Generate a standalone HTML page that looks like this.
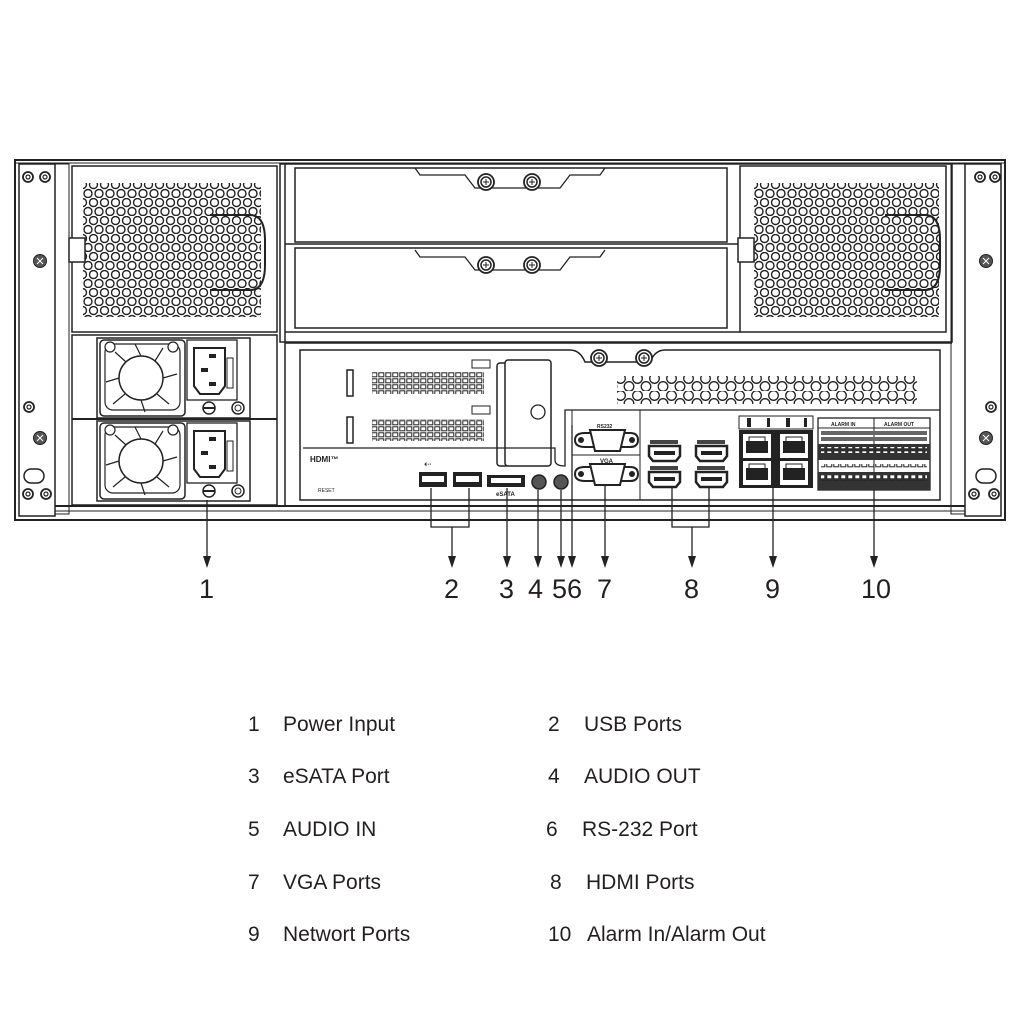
<!DOCTYPE html>
<html><head><meta charset="utf-8"><style>
html,body{margin:0;padding:0;background:#fff;}
svg{display:block}
text{font-family:"Liberation Sans",sans-serif;fill:#231f20}
</style></head><body>
<svg width="1024" height="1024" viewBox="0 0 1024 1024" xmlns="http://www.w3.org/2000/svg">
<defs>
<pattern id="hex" x="0" y="0" width="11" height="18" patternUnits="userSpaceOnUse">
<circle cx="5.5" cy="4.5" r="4" fill="#fff" stroke="#222" stroke-width="1.4"/>
<circle cx="0" cy="13.5" r="4" fill="#fff" stroke="#222" stroke-width="1.4"/>
<circle cx="11" cy="13.5" r="4" fill="#fff" stroke="#222" stroke-width="1.4"/>
</pattern>
<pattern id="hex2" x="0" y="0" width="17" height="17" patternUnits="userSpaceOnUse">
<circle cx="8.5" cy="4.5" r="4.8" fill="#fff" stroke="#222" stroke-width="1.3"/>
<circle cx="0" cy="12.5" r="4.8" fill="#fff" stroke="#222" stroke-width="1.3"/>
<circle cx="17" cy="12.5" r="4.8" fill="#fff" stroke="#222" stroke-width="1.3"/>
</pattern>
<pattern id="sq" x="0" y="0" width="7" height="6" patternUnits="userSpaceOnUse">
<rect x="0.8" y="0.8" width="5" height="4" fill="#fff" stroke="#222" stroke-width="1"/>
</pattern>
<g id="psu">
<rect x="0" y="0" width="153" height="80" fill="#fff" stroke="#222" stroke-width="1.5"/>
<rect x="3" y="2" width="85" height="76" rx="4" fill="#fff" stroke="#222" stroke-width="1.5"/>
<rect x="8" y="6" width="75" height="66" rx="8" fill="none" stroke="#222" stroke-width="1.2"/>
<circle cx="44" cy="40" r="22" fill="#fff" stroke="#222" stroke-width="1.5"/>
<g stroke="#222" stroke-width="1.2">
<line x1="44" y1="18" x2="38" y2="6"/><line x1="58" y1="23" x2="66" y2="10"/><line x1="66" y1="40" x2="80" y2="36"/>
<line x1="60" y1="56" x2="72" y2="66"/><line x1="44" y1="62" x2="48" y2="74"/><line x1="28" y1="56" x2="16" y2="66"/>
<line x1="22" y1="40" x2="9" y2="44"/><line x1="29" y1="24" x2="18" y2="14"/>
</g>
<circle cx="13" cy="9" r="5" fill="#fff" stroke="#222" stroke-width="1.2"/>
<circle cx="76" cy="9" r="5" fill="#fff" stroke="#222" stroke-width="1.2"/>
<rect x="90" y="2" width="50" height="60" fill="#fff" stroke="#222" stroke-width="1.3"/>
<path d="M97 10 H128 V48 L122 56 H103 L97 48 Z" fill="#fff" stroke="#222" stroke-width="2"/>
<rect x="112" y="16" width="7" height="4" fill="#222"/><rect x="104" y="30" width="7" height="4" fill="#222"/><rect x="112" y="44" width="7" height="4" fill="#222"/>
<rect x="130" y="20" width="6" height="30" fill="none" stroke="#222"/>
<circle cx="112" cy="70" r="6" fill="#fff" stroke="#222" stroke-width="1.5"/>
<line x1="106" y1="70" x2="118" y2="70" stroke="#222" stroke-width="2"/>
<circle cx="141" cy="70" r="6" fill="#fff" stroke="#222" stroke-width="1.5"/>
<circle cx="141" cy="70" r="3" fill="none" stroke="#222"/>
</g>
<g id="screw"><circle r="8" fill="#fff" stroke="#222" stroke-width="1.8"/><circle r="5" fill="none" stroke="#222" stroke-width="1.5"/><line x1="-3" y1="0" x2="3" y2="0" stroke="#222"/><line x1="0" y1="-3" x2="0" y2="3" stroke="#222"/></g>
<g id="ring"><circle r="5" fill="#fff" stroke="#222" stroke-width="1.8"/><circle r="2" fill="none" stroke="#222" stroke-width="1.2"/></g>
<g id="xs"><circle r="6.5" fill="#555" stroke="#222"/><path d="M-3 -3L3 3M3 -3L-3 3" stroke="#fff" stroke-width="1"/></g>
<g id="hdmi"><path d="M0 0 H31 V10 L27 15 H4 L0 10 Z" fill="#fff" stroke="#222" stroke-width="2.5"/><rect x="5" y="5" width="21" height="4" fill="#222"/></g>
<g id="rj"><rect x="0" y="0" width="34" height="30" fill="#222"/><rect x="3" y="3" width="28" height="24" fill="#fff"/><rect x="6" y="10" width="22" height="12" fill="#222"/><rect x="9" y="6" width="16" height="5" fill="none" stroke="#222"/></g>
</defs>

<rect x="15" y="160" width="990" height="360" fill="#fff" stroke="#222" stroke-width="2"/>
<line x1="15" y1="163" x2="1005" y2="163" stroke="#222"/>
<rect x="19" y="164" width="36" height="352" fill="#fff" stroke="#222" stroke-width="1.5"/>
<rect x="965" y="164" width="36" height="352" fill="#fff" stroke="#222" stroke-width="1.5"/>
<rect x="55" y="164" width="14" height="350" fill="none" stroke="#222"/>
<rect x="951" y="164" width="14" height="350" fill="none" stroke="#222"/>
<line x1="55" y1="506" x2="965" y2="506" stroke="#222" stroke-width="2"/>
<line x1="55" y1="511" x2="965" y2="511" stroke="#222"/>
<use href="#ring" x="28" y="177"/><use href="#ring" x="45" y="177"/>
<use href="#xs" x="40" y="261"/><use href="#ring" x="29" y="407"/><use href="#xs" x="40" y="438"/>
<rect x="24" y="469" width="20" height="14" rx="7" fill="#fff" stroke="#222" stroke-width="1.5"/>
<use href="#ring" x="28" y="494"/><use href="#ring" x="46" y="494"/>
<use href="#ring" x="980" y="177"/><use href="#ring" x="995" y="177"/>
<use href="#xs" x="986" y="261"/><use href="#ring" x="991" y="407"/><use href="#xs" x="986" y="438"/>
<rect x="976" y="469" width="20" height="14" rx="7" fill="#fff" stroke="#222" stroke-width="1.5"/>
<use href="#ring" x="974" y="494"/><use href="#ring" x="994" y="494"/>

<rect x="72" y="166" width="205" height="166" fill="#fff" stroke="#222" stroke-width="1.5"/>
<rect x="83" y="183" width="178" height="134" fill="url(#hex)"/>
<path d="M210 215 H250 Q265 215 265 240 V265 Q265 290 250 290 H210" fill="none" stroke="#222" stroke-width="2"/>
<rect x="69" y="238" width="16" height="24" fill="#fff" stroke="#222" stroke-width="1.5"/>
<rect x="72" y="335" width="205" height="170" fill="#fff" stroke="#222" stroke-width="1.5"/>
<line x1="72" y1="419" x2="277" y2="419" stroke="#222" stroke-width="2"/>
<use href="#psu" x="97" y="338"/>
<use href="#psu" x="97" y="421"/>

<rect x="280" y="164" width="672" height="178" fill="none" stroke="#222" stroke-width="1.5"/>
<line x1="285" y1="164" x2="285" y2="505" stroke="#222" stroke-width="1.5"/>
<rect x="295" y="168" width="432" height="74" fill="#fff" stroke="#222" stroke-width="1.5"/>
<rect x="295" y="248" width="432" height="80" fill="#fff" stroke="#222" stroke-width="1.5"/>
<line x1="285" y1="244" x2="740" y2="244" stroke="#222" stroke-width="1.5"/>
<line x1="285" y1="332" x2="740" y2="332" stroke="#222" stroke-width="1.5"/>
<path d="M415 168 L420 175 H465 L475 188 H560 L570 175 H600 L605 168" fill="none" stroke="#222" stroke-width="1.3"/>
<path d="M415 250 L420 257 H465 L475 270 H560 L570 257 H600 L605 250" fill="none" stroke="#222" stroke-width="1.3"/>
<use href="#screw" x="486" y="182"/><use href="#screw" x="532" y="182"/>
<use href="#screw" x="486" y="265"/><use href="#screw" x="532" y="265"/>

<rect x="740" y="166" width="206" height="166" fill="#fff" stroke="#222" stroke-width="1.5"/>
<rect x="754" y="183" width="185" height="134" fill="url(#hex)"/>
<path d="M885 215 H925 Q940 215 940 240 V265 Q940 290 925 290 H885" fill="none" stroke="#222" stroke-width="2"/>
<rect x="738" y="238" width="16" height="24" fill="#fff" stroke="#222" stroke-width="1.5"/>

<line x1="285" y1="343" x2="952" y2="343" stroke="#222" stroke-width="1.5"/>
<path d="M300 350 H570 Q580 350 585 362 H650 Q655 350 665 350 H940 V500 H300 Z" fill="#fff" stroke="#222" stroke-width="1.5"/>
<use href="#screw" x="599" y="358"/><use href="#screw" x="644" y="358"/>
<rect x="617" y="376" width="300" height="28" fill="url(#hex2)"/>
<rect x="372" y="372" width="112" height="22" fill="url(#sq)"/>
<rect x="372" y="419" width="112" height="22" fill="url(#sq)"/>
<rect x="347" y="370" width="6" height="26" fill="none" stroke="#222" stroke-width="1.5"/>
<rect x="347" y="417" width="6" height="26" fill="none" stroke="#222" stroke-width="1.5"/>
<rect x="472" y="360" width="18" height="8" fill="none" stroke="#222"/>
<rect x="472" y="406" width="18" height="8" fill="none" stroke="#222"/>
<rect x="497" y="363" width="12" height="103" rx="3" fill="none" stroke="#222" stroke-width="1.5"/>
<rect x="505" y="360" width="46" height="106" rx="3" fill="#fff" stroke="#222" stroke-width="1.5"/>
<circle cx="538" cy="412" r="7" fill="#fff" stroke="#222" stroke-width="1.3"/>
<path d="M303 448 H555 V460 Q555 466 565 466 V410 H940" fill="none" stroke="#222" stroke-width="1.3"/>
<text x="310" y="462" font-size="8" font-weight="bold">HDMI™</text>
<text x="318" y="492" font-size="5">RESET</text>
<text x="424" y="467" font-size="9">⇠</text>
<rect x="419" y="472" width="28" height="15" fill="#222"/><rect x="422" y="476" width="22" height="6" fill="#fff"/>
<rect x="453" y="472" width="29" height="15" fill="#222"/><rect x="456" y="476" width="23" height="6" fill="#fff"/>
<rect x="487" y="475" width="38" height="12" fill="#222"/><rect x="491" y="478" width="30" height="5" fill="#fff"/>
<text x="496" y="496" font-size="6" font-weight="bold">eSATA</text>
<circle cx="539" cy="482" r="7" fill="#555" stroke="#222" stroke-width="1.5"/>
<circle cx="561" cy="482" r="7" fill="#555" stroke="#222" stroke-width="1.5"/>
<line x1="572" y1="410" x2="572" y2="500" stroke="#222"/>
<line x1="572" y1="455" x2="640" y2="455" stroke="#222"/>
<line x1="640" y1="410" x2="640" y2="500" stroke="#222"/>
<g stroke="#222" stroke-width="2" fill="#fff">
<path d="M575 440 Q575 433 585 433 H630 Q638 433 638 440 Q638 447 630 447 H585 Q575 447 575 440Z"/>
<path d="M590 430 H625 L620 451 H595Z"/>
<path d="M575 474 Q575 467 585 467 H630 Q638 467 638 474 Q638 481 630 481 H585 Q575 481 575 474Z"/>
<path d="M590 464 H625 L620 485 H595Z"/>
</g>
<circle cx="581" cy="440" r="3" fill="#222"/><circle cx="632" cy="440" r="3" fill="#222"/>
<circle cx="581" cy="474" r="3" fill="#222"/><circle cx="632" cy="474" r="3" fill="#222"/>
<text x="597" y="428" font-size="5" font-weight="bold">RS232</text>
<text x="600" y="463" font-size="6" font-weight="bold">VGA</text>
<use href="#hdmi" x="649" y="446"/><use href="#hdmi" x="696" y="446"/>
<use href="#hdmi" x="649" y="472"/><use href="#hdmi" x="696" y="472"/>
<rect x="650" y="440" width="28" height="4" fill="#444"/><rect x="697" y="440" width="28" height="4" fill="#444"/>
<rect x="650" y="466" width="28" height="4" fill="#444"/><rect x="697" y="466" width="28" height="4" fill="#444"/>
<rect x="739" y="416" width="74" height="13" fill="none" stroke="#222"/>
<g fill="#222"><rect x="747" y="418" width="4" height="9"/><rect x="767" y="418" width="3" height="9"/><rect x="786" y="418" width="4" height="9"/><rect x="804" y="418" width="3" height="9"/></g>
<rect x="739" y="430" width="74" height="58" fill="#222"/>
<use href="#rj" x="740" y="431"/><use href="#rj" x="777" y="431"/>
<use href="#rj" x="740" y="458"/><use href="#rj" x="777" y="458"/>
<rect x="818" y="418" width="112" height="72" fill="none" stroke="#222" stroke-width="1.3"/>
<line x1="818" y1="428" x2="930" y2="428" stroke="#222"/>
<line x1="874" y1="418" x2="874" y2="490" stroke="#222"/>
<text x="831" y="426" font-size="5" font-weight="bold">ALARM IN</text>
<text x="884" y="426" font-size="5" font-weight="bold">ALARM OUT</text>
<rect x="821" y="431" width="106" height="4" fill="#666"/>
<rect x="821" y="437" width="106" height="4" fill="#666"/>
<rect x="818" y="444" width="112" height="16" fill="#333"/>
<rect x="821" y="447" width="106" height="6" fill="url(#sq)"/>
<rect x="821" y="464" width="106" height="4" fill="url(#sq)"/>
<rect x="818" y="472" width="112" height="18" fill="#333"/>
<rect x="821" y="475" width="106" height="6" fill="url(#sq)"/>

<g stroke="#222" stroke-width="1.3" fill="none">
<line x1="207" y1="500" x2="207" y2="558"/>
<polyline points="431,488 431,527 469,527 469,488"/>
<line x1="452" y1="527" x2="452" y2="558"/>
<line x1="507" y1="488" x2="507" y2="558"/>
<line x1="538" y1="490" x2="538" y2="558"/>
<line x1="561" y1="490" x2="561" y2="558"/>
<line x1="572" y1="425" x2="572" y2="558"/>
<line x1="605" y1="485" x2="605" y2="558"/>
<polyline points="672,487 672,527 709,527 709,487"/>
<line x1="692" y1="527" x2="692" y2="558"/>
<line x1="773" y1="488" x2="773" y2="558"/>
<line x1="874" y1="490" x2="874" y2="558"/>
</g>
<g fill="#222">
<path d="M203 556 H211 L207 568Z"/><path d="M448 556 H456 L452 568Z"/><path d="M503 556 H511 L507 568Z"/>
<path d="M534 556 H542 L538 568Z"/><path d="M557 556 H565 L561 568Z"/><path d="M568 556 H576 L572 568Z"/>
<path d="M601 556 H609 L605 568Z"/><path d="M688 556 H696 L692 568Z"/><path d="M769 556 H777 L773 568Z"/>
<path d="M870 556 H878 L874 568Z"/>
</g>
<g font-size="27">
<text x="199" y="598">1</text><text x="444" y="598">2</text><text x="499" y="598">3</text>
<text x="528" y="598">4</text><text x="552" y="598">5</text><text x="567" y="598">6</text>
<text x="597" y="598">7</text><text x="684" y="598">8</text><text x="765" y="598">9</text>
<text x="861" y="598">10</text>
</g>

<g font-size="21">
<text x="248" y="731">1</text><text x="283" y="731">Power Input</text>
<text x="548" y="731">2</text><text x="584" y="731">USB Ports</text>
<text x="248" y="783">3</text><text x="283" y="783">eSATA Port</text>
<text x="548" y="783">4</text><text x="584" y="783">AUDIO OUT</text>
<text x="248" y="836">5</text><text x="283" y="836">AUDIO IN</text>
<text x="546" y="836">6</text><text x="582" y="836">RS-232 Port</text>
<text x="248" y="889">7</text><text x="283" y="889">VGA Ports</text>
<text x="550" y="889">8</text><text x="586" y="889">HDMI Ports</text>
<text x="248" y="941">9</text><text x="283" y="941">Networt Ports</text>
<text x="548" y="941">10</text><text x="587" y="941">Alarm In/Alarm Out</text>
</g>
</svg>
</body></html>
